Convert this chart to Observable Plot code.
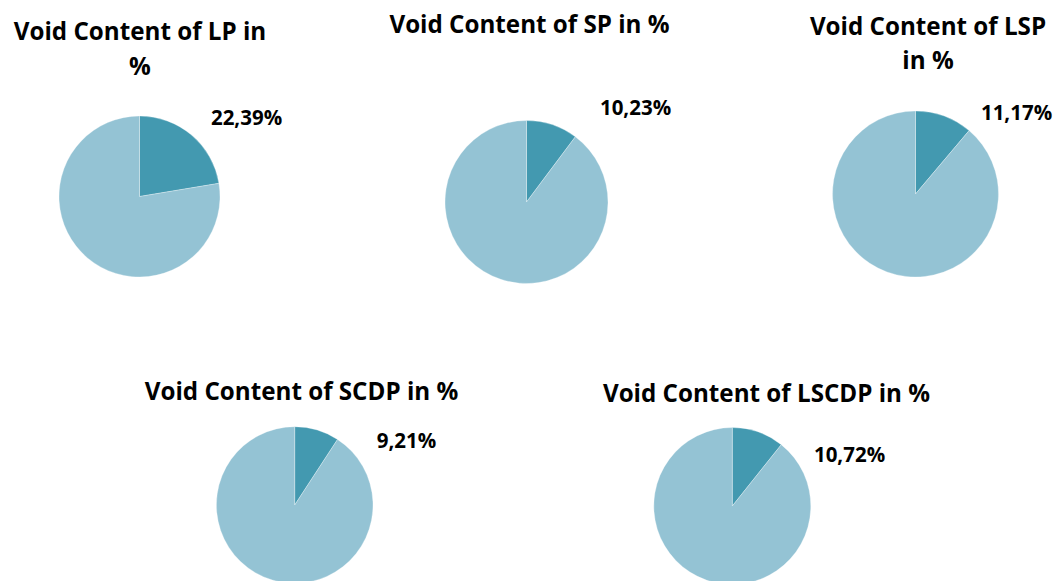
<!DOCTYPE html>
<html>
<head>
<meta charset="utf-8">
<script src="https://cdn.jsdelivr.net/npm/d3@7"></script>
<script src="https://cdn.jsdelivr.net/npm/@observablehq/plot@0.6"></script>
<style>
  html, body { margin: 0; padding: 0; background: #fff; }
  #chart { width: 1054px; height: 581px; }
</style>
</head>
<body>
<div id="chart"></div>
<script>
// ---- data ----
const samples = ["LP", "SP", "LSP", "SCDP", "LSCDP"];
const voidPct = [22.39, 10.23, 11.17, 9.21, 10.72];
const titles = [
  "Void Content of LP in\n%",
  "Void Content of SP in %",
  "Void Content of LSP\nin %",
  "Void Content of SCDP in %",
  "Void Content of LSCDP in %"
];
const valueLabels = ["22,39%", "10,23%", "11,17%", "9,21%", "10,72%"];

// ---- layout (page pixels) ----
const centerX = [139.5, 526.5, 915.5, 294.7, 732.3];
const centerY = [196.5, 202, 194, 505, 506];
const radius  = [80.5, 81.5, 83, 78.3, 78.5];
const titleX  = [139.5, 529, 927.5, 301, 766];
const titleY  = [46, 21.5, 40.5, 388.5, 390];
const labelX  = [246, 635, 1016, 406, 849];
const labelY  = [117.5, 107.5, 112.5, 441, 454.5];

const colors = ["#4399B0", "#94C3D4"];

const pies = samples.map((s, i) => ({
  sample: s, cx: centerX[i], cy: centerY[i], r: radius[i],
  parts: [voidPct[i], 100 - voidPct[i]]
}));
const titleData = samples.map((s, i) => ({text: titles[i], x: titleX[i], y: titleY[i]}));
const labelData = samples.map((s, i) => ({text: valueLabels[i], x: labelX[i], y: labelY[i]}));

// custom pie mark using Plot's scales
function pieMark(data) {
  return (index, scales, values, dimensions, context) => {
    const g = d3.create("svg:g");
    const pie = d3.pie().sort(null).value(d => d);
    data.forEach(p => {
      const cx = scales.x(p.cx), cy = scales.y(p.cy);
      const rpx = Math.abs(scales.x(p.cx + p.r) - cx);
      const arc = d3.arc().innerRadius(0).outerRadius(rpx);
      g.append("g")
        .attr("transform", `translate(${cx},${cy})`)
        .selectAll("path")
        .data(pie(p.parts))
        .join("path")
        .attr("d", arc)
        .attr("fill", (d, j) => colors[j])
        .attr("stroke", "#ffffff")
        .attr("stroke-opacity", 0.5)
        .attr("stroke-width", 0.6);
    });
    return g.node();
  };
}

const font = "'Open Sans', sans-serif";

const chart = Plot.plot({
  width: 1054,
  height: 581,
  margin: 0,
  x: {domain: [0, 1054], range: [0, 1054], axis: null},
  y: {domain: [0, 581], range: [0, 581], axis: null},
  style: {fontFamily: font, background: "#fff", overflow: "visible"},
  marks: [
    pieMark(pies),
    Plot.text(titleData, {
      x: "x", y: "y", text: "text",
      fontSize: 24.2, fontWeight: "bold", fill: "#000",
      textAnchor: "middle", lineAnchor: "middle", lineHeight: 1.43
    }),
    Plot.text(labelData, {
      x: "x", y: "y", text: "text",
      fontSize: 20.5, fontWeight: "bold", fill: "#000",
      textAnchor: "middle", lineAnchor: "middle"
    })
  ]
});
document.getElementById("chart").appendChild(chart);
</script>
</body>
</html>
